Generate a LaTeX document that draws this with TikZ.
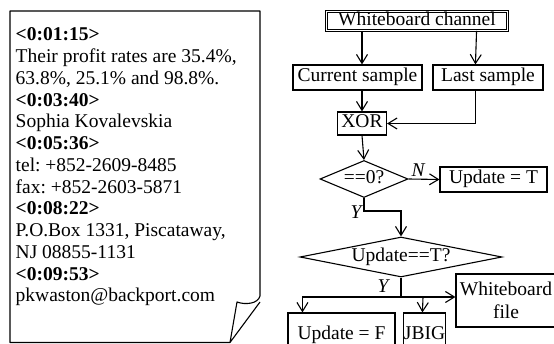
\documentclass[tikz,border=0pt]{standalone}
\usepackage{fontspec}
\setmainfont{Liberation Serif}
\usetikzlibrary{arrows.meta,shapes.geometric,calc}
\tikzset{
  ln/.style={line width=1.1pt},
  arr/.style={ln,-{Straight Barb[length=9pt,width=11pt,line width=1.1pt]}},
  box/.style={draw,ln,rectangle,inner sep=0pt,text height=13.5pt,text depth=4.5pt},
  dia/.style={draw,ln,diamond,inner sep=0pt,text height=13.5pt,text depth=4.5pt},
  notetxt/.style={anchor=base west,inner sep=0pt},
  lab/.style={inner sep=0pt,font=\fontsize{19.5}{21.75}\selectfont\itshape}
}
\begin{document}
\frenchspacing
\begin{tikzpicture}[x=1pt,y=-1pt,font=\fontsize{19.5}{21.75}\selectfont]
\useasboundingbox (0,0) rectangle (554,344);
\clip (0,0) rectangle (554,344);
% note
\draw[ln,line join=round] (230,342.5) -- (10,342.5) -- (10,11) -- (260,11) -- (260,296)
  .. controls (258,304) and (245,305) .. (237,302) -- (230,342.5) -- (260,302);
\node[notetxt] (l1) at (15.5,41) {\textbf{<0:01:15>}};
\node[notetxt] (l2) at (15.5,62.75) {Their profit rates are 35.4\%,};
\node[notetxt] (l3) at (15.5,84.5) {63.8\%, 25.1\% and 98.8\%.};
\node[notetxt] (l4) at (15.5,106.25) {\textbf{<0:03:40>}};
\node[notetxt] (l5) at (15.5,128) {Sophia Kovalevskia};
\node[notetxt] (l6) at (15.5,149.75) {\textbf{<0:05:36>}};
\node[notetxt] (l7) at (15.5,171.5) {tel: +852-2609-8485};
\node[notetxt] (l8) at (15.5,193.25) {fax: +852-2603-5871};
\node[notetxt] (l9) at (15.5,215) {\textbf{<0:08:22>}};
\node[notetxt] (l10) at (15.5,236.75) {P.O.Box 1331, Piscataway,};
\node[notetxt] (l11) at (15.5,258.5) {NJ 08855-1131};
\node[notetxt] (l12) at (15.5,280.25) {\textbf{<0:09:53>}};
\node[notetxt] (l13) at (15.5,302) {pkwaston@backport.com};
% flowchart
\node[box,double,double distance=1.6pt,line width=0.9pt,minimum width=181,minimum height=19] (wc) at (417,21) {Whiteboard channel};
\node[box,minimum width=129,minimum height=25] (cs) at (357.5,77.5) {Current sample};
\node[box,minimum width=110,minimum height=25] (ls) at (488,77.5) {Last sample};
\node[box,minimum width=49,minimum height=23] (xor) at (362,123.5) {XOR};
\node[dia,aspect=2.38,minimum width=88,minimum height=37] (d1) at (364,179) {==0?};
\node[box,minimum width=107,minimum height=25] (ut) at (493.5,179.5) {Update = T};
\node[dia,aspect=5.05,minimum width=202,minimum height=40] (d2) at (401,257) {Update==T?};
\node[box,minimum width=107,minimum height=45] (uf) at (341.5,335.5) {Update = F};
\node[box,minimum width=42,minimum height=45] (jb) at (424.5,335.5) {JBIG};
\node[draw,ln,rectangle,inner sep=0pt,minimum width=100,minimum height=53,align=center,
  font=\fontsize{19.5}{23}\selectfont] (wf) at (506,300.5) {Whiteboard\\file};
\node[lab] (nN) at (418,170) {N};
\node[lab] (nY1) at (356,212) {Y};
\node[lab] (nY2) at (383,286) {Y};
\coordinate (j) at (401,297);
% connectors
\draw[arr] (wc.south -| xor) -- (cs.north -| xor);
\draw[arr] ($(wc.south west)+(150.5,0)$) -- ($(ls.north west)+(43,0)$);
\draw[arr] (cs.south -| xor) -- (xor.north);
\draw[arr] ($(ls.south west)+(43,0)$) |- (xor.east);
\draw[arr] (xor.south) -- (d1.north);
\draw[arr] (d1.east) -- (ut.west);
\draw[arr] (d1.south) -- ++(0,13) -| (d2.north);
\draw[ln] (d2.south) -- (j);
\draw[arr] (j) -- (j -| wf.west);
\draw[arr] (j) -| ($(uf.north west)+(15,0)$);
\draw[arr] ($(j)+(22,0)$) -- ($(jb.north west)+(19.5,0)$);
\end{tikzpicture}
\end{document}
